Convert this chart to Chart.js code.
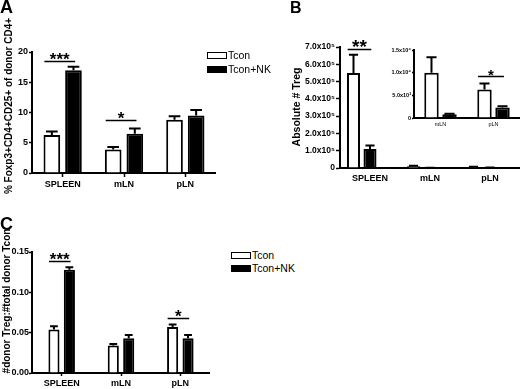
<!DOCTYPE html>
<html>
<head>
<meta charset="utf-8">
<script src="https://cdn.jsdelivr.net/npm/chart.js@4.4.1/dist/chart.umd.min.js"></script>
<style>
  html, body { margin: 0; padding: 0; background: #fff; }
  body { width: 520px; height: 389px; position: relative; overflow: hidden; font-family: "Liberation Sans", Arial, sans-serif; color: #000; }
  canvas { position: absolute; }
  .letter { position: absolute; font-weight: bold; line-height: 1; }
  .ytitle { position: absolute; font-weight: bold; white-space: nowrap; line-height: 1; transform: translate(-50%, -50%) rotate(-90deg); }
  .legend { position: absolute; font-size: 10.5px; }
  .legend .row { display: flex; align-items: center; }
  .legend .sw { display: inline-block; width: 20px; height: 7px; border: 1.5px solid #000; box-sizing: border-box; margin-right: 1px; }
</style>
</head>
<body>
<canvas id="chartA" width="216" height="200" style="left:0;top:0"></canvas>
<canvas id="chartB" width="220" height="200" style="left:300px;top:0"></canvas>
<canvas id="chartInset" width="140" height="110" style="left:380px;top:30px"></canvas>
<canvas id="chartC" width="210" height="189" style="left:0;top:200px"></canvas>

<div class="letter" style="left:0;top:-2px;font-size:18px">A</div>
<div class="letter" style="left:290px;top:0;font-size:16px">B</div>
<div class="letter" style="left:0;top:215px;font-size:18px">C</div>

<div class="ytitle" style="left:8.5px;top:106px;font-size:10px">% Foxp3+CD4+CD25+ of donor CD4+</div>
<div class="ytitle" style="left:295.5px;top:106.5px;font-size:10.5px">Absolute # Treg</div>
<div class="ytitle" style="left:7px;top:301px;font-size:10px">#donor Treg:#total donor Tcon</div>

<div class="legend" id="legendA" style="left:207px;top:47.75px;line-height:14.5px"></div>
<div class="legend" id="legendC" style="left:231px;top:249px;line-height:13px"></div>

<script>
// categories and series
const groups = ['SPLEEN', 'mLN', 'pLN'];
const insetGroups = ['mLN', 'pLN'];
const seriesNames = ['Tcon', 'Tcon+NK'];

// A: % Foxp3+CD4+CD25+ of donor CD4+
const pctTcon = [6.3, 3.9, 8.8];
const pctTconErr = [0.55, 0.4, 0.6];
const pctNK = [17.0, 6.5, 9.5];
const pctNKErr = [0.55, 0.85, 0.9];
const sigA = [{ cat: 0, level: 18.5, text: '***' }, { cat: 1, level: 8.8, text: '*' }];

// B: absolute # Treg (inset = mLN, pLN zoomed)
const absTcon = [550000, 10000, 6300];
const absTconErr = [105000, 3400, 1300];
const absNK = [110000, 800, 2300];
const absNKErr = [20000, 150, 300];
const absTicks = ['0', '1.0x10⁵', '2.0x10⁵', '3.0x10⁵', '4.0x10⁵', '5.0x10⁵', '6.0x10⁵', '7.0x10⁵'];
const insetTicks = ['0', '5.0x10³', '1.0x10⁴', '1.5x10⁴'];
const sigB = [{ cat: 0, level: 686000, text: '**' }];
const sigInset = [{ cat: 1, level: 9300, text: '*' }];

// C: #donor Treg : #total donor Tcon
const ratioTcon = [0.054, 0.034, 0.057];
const ratioTconErr = [0.004, 0.002, 0.003];
const ratioNK = [0.128, 0.043, 0.043];
const ratioNKErr = [0.003, 0.004, 0.004];
const sigC = [{ cat: 0, level: 0.139, text: '***' }, { cat: 2, level: 0.0686, text: '*' }];

Chart.defaults.font.family = '"Liberation Sans", Arial, sans-serif';
Chart.defaults.color = '#000';
Chart.defaults.animation = false;
Chart.defaults.responsive = false;

// upper error bars + significance brackets
const errSigPlugin = {
    id: 'errSig',
    afterDatasetsDraw(chart, args, opts) {
        const ctx = chart.ctx;
        const y = chart.scales.y;
        ctx.save();
        ctx.strokeStyle = '#000';
        ctx.fillStyle = '#000';
        (opts.errors || []).forEach((errs, d) => {
            const meta = chart.getDatasetMeta(d);
            const vals = chart.data.datasets[d].data;
            errs.forEach((e, i) => {
                if (vals[i] == null || !e) return;
                const bar = meta.data[i];
                const top = y.getPixelForValue(vals[i] + e);
                const half = bar.width * 0.35;
                ctx.lineWidth = 2;
                ctx.beginPath();
                ctx.moveTo(bar.x, bar.y);
                ctx.lineTo(bar.x, top);
                ctx.moveTo(bar.x - half, top);
                ctx.lineTo(bar.x + half, top);
                ctx.stroke();
            });
        });
        (opts.sig || []).forEach(s => {
            const a = chart.getDatasetMeta(0).data[s.cat];
            const b = chart.getDatasetMeta(1).data[s.cat];
            const x1 = a.x - a.width * 0.45;
            const x2 = b.x + b.width * 0.1;
            const ly = Math.round(y.getPixelForValue(s.level)) + 0.5;
            ctx.lineWidth = 1.5;
            ctx.beginPath();
            ctx.moveTo(x1, ly);
            ctx.lineTo(x2, ly);
            ctx.stroke();
            ctx.font = 'bold ' + opts.starSize + 'px "Liberation Sans", Arial';
            ctx.textAlign = 'center';
            ctx.textBaseline = 'alphabetic';
            ctx.fillText(s.text, (x1 + x2) / 2, ly + opts.starDy);
        });
        ctx.restore();
    }
};

function makeBars(canvasId, o) {
    const datasets = o.values.map((vals, d) => ({
        label: seriesNames[d] || '',
        data: vals,
        backgroundColor: d === 0 ? '#fff' : '#000',
        borderColor: '#000',
        borderWidth: 2,
        categoryPercentage: o.catPct,
        barPercentage: o.barPct
    }));
    return new Chart(document.getElementById(canvasId), {
        type: 'bar',
        data: { labels: o.labels, datasets: datasets },
        options: {
            layout: { padding: { left: o.padLeft, top: o.padTop, right: 0, bottom: 0 } },
            plugins: {
                legend: { display: false },
                tooltip: { enabled: false },
                errSig: { errors: o.errors, sig: o.sig, starSize: o.starSize, starDy: o.starDy }
            },
            scales: {
                x: {
                    grid: {
                        drawOnChartArea: false,
                        offset: false,
                        drawTicks: o.xTick > 0,
                        tickLength: o.xTick,
                        tickColor: '#000',
                        tickWidth: 1.5
                    },
                    border: { color: '#000', width: 2 },
                    ticks: {
                        font: { size: o.xFont, weight: o.xWeight || 'bold' },
                        padding: o.xPad,
                        maxRotation: 0,
                        autoSkip: false
                    },
                    afterFit: s => { s.height = o.xHeight; }
                },
                y: {
                    min: 0,
                    max: o.yMax,
                    grid: {
                        drawOnChartArea: false,
                        tickLength: o.yTick,
                        tickColor: '#000',
                        tickWidth: 1.5
                    },
                    border: { color: '#000', width: 2 },
                    ticks: {
                        stepSize: o.yStep,
                        font: { size: o.yFont, weight: 'bold' },
                        padding: o.yPad,
                        callback: o.yLabel
                    },
                    afterFit: s => { s.width = o.yWidth; }
                }
            }
        },
        plugins: [errSigPlugin]
    });
}

function buildLegend(id) {
    const el = document.getElementById(id);
    seriesNames.forEach((name, i) => {
        const row = document.createElement('div');
        row.className = 'row';
        const sw = document.createElement('span');
        sw.className = 'sw';
        sw.style.background = i === 0 ? '#fff' : '#000';
        row.appendChild(sw);
        row.appendChild(document.createTextNode(name));
        el.appendChild(row);
    });
}

// Panel A
makeBars('chartA', {
    labels: groups, values: [pctTcon, pctNK], errors: [pctTconErr, pctNKErr], sig: sigA,
    catPct: 0.705, barPct: 0.77, padLeft: 12, padTop: 52,
    yWidth: 20, xHeight: 27, yMax: 20, yStep: 5, yFont: 9, yTick: 3, yPad: 1,
    yLabel: v => v, xFont: 9, xTick: 4, xPad: 2, starSize: 17, starDy: 3
});

// Panel B (third, empty series keeps the pair left of the label like the original)
makeBars('chartB', {
    labels: groups, values: [absTcon, absNK, [null, null, null]], errors: [absTconErr, absNKErr], sig: sigB,
    catPct: 0.825, barPct: 0.79, padLeft: 0, padTop: 47,
    yWidth: 40, xHeight: 32, yMax: 700000, yStep: 100000, yFont: 8.5, yTick: 4, yPad: 1,
    yLabel: (v, i) => absTicks[i], xFont: 9, xTick: 0, xPad: 5, starSize: 19, starDy: 3
});

// Panel B inset
makeBars('chartInset', {
    labels: insetGroups, values: [absTcon.slice(1), absNK.slice(1)],
    errors: [absTconErr.slice(1), absNKErr.slice(1)], sig: sigInset,
    catPct: 0.68, barPct: 0.8, padLeft: 0, padTop: 20,
    yWidth: 34, xHeight: 22, yMax: 15000, yStep: 5000, yFont: 5.5, yTick: 2, yPad: 1,
    yLabel: (v, i) => insetTicks[i], xFont: 5.5, xWeight: 'normal', xTick: 0, xPad: 3, starSize: 15, starDy: 3
});

// Panel C
makeBars('chartC', {
    labels: groups, values: [ratioTcon, ratioNK], errors: [ratioTconErr, ratioNKErr], sig: sigC,
    catPct: 0.52, barPct: 0.72, padLeft: 12, padTop: 52,
    yWidth: 20, xHeight: 16, yMax: 0.15, yStep: 0.05, yFont: 9, yTick: 3, yPad: 0,
    yLabel: v => v.toFixed(2), xFont: 9, xTick: 3, xPad: 2, starSize: 17, starDy: 3
});

buildLegend('legendA');
buildLegend('legendC');
</script>
</body>
</html>
